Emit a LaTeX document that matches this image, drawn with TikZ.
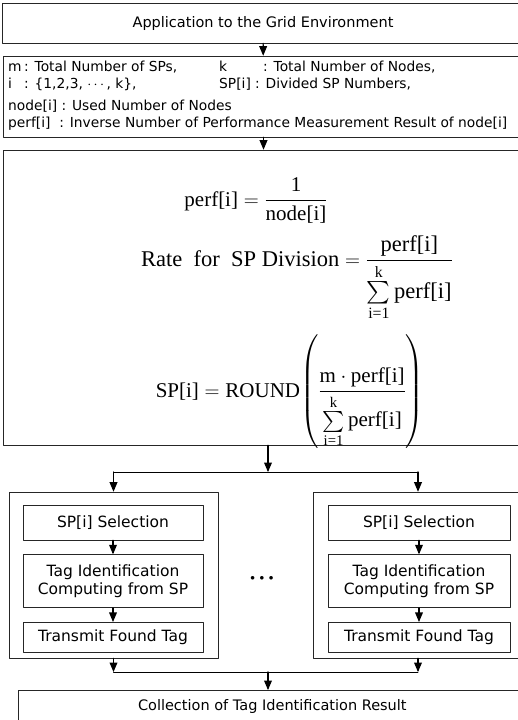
\documentclass[tikz,border=0pt]{standalone}
\usepackage{amsmath}
\usepackage{amssymb}
\usepackage{fontspec}
\setsansfont{DejaVu Sans}
\newfontfamily\eqfont{Liberation Serif}
\usepackage{pgf,tikz}
\usetikzlibrary{arrows,positioning}
\definecolor{boxline}{rgb}{0.15,0.15,0.15}

\begin{document}
\begin{tikzpicture}[line cap=round,line join=round,>=triangle 45,x=1pt,y=-1pt,
	box/.style={draw=boxline,line width=0.6pt,rectangle,inner sep=0pt,align=center,font=\sffamily\fontsize{14.5}{17}\selectfont},
	stepbox/.style={box,font=\sffamily\fontsize{15.5}{18}\selectfont},
	deftxt/.style={anchor=base west,inner sep=0pt,font=\sffamily\fontsize{13.8}{15}\selectfont},
	eqn/.style={anchor=base,inner sep=0pt,font=\eqfont\fontsize{21}{24}\selectfont},
	flow/.style={->,line width=1.2pt},
	link/.style={line width=0.6pt}]
		\useasboundingbox (0.,0.) rectangle (518.,720.);
		\node[box,minimum width=522pt,minimum height=40pt] (grid) at (263.,23.) {Application to the Grid Environment};
		\node[box,minimum width=521pt,minimum height=81pt] (defs) at (263.5,96.5) {};
		\node[deftxt] (dm) at (8.,71.) {\makebox[16pt][l]{m}: Total Number of SPs,};
		\node[deftxt] (dk) at (219.,71.) {\makebox[44pt][l]{k}: Total Number of Nodes,};
		\node[deftxt] (di) at (8.,88.) {\makebox[16pt][l]{i}: \{1,2,3, $\cdots$, k\},};
		\node[deftxt] (dsp) at (219.,88.) {\makebox[36pt][l]{SP[i]}: Divided SP Numbers,};
		\node[deftxt] (dnode) at (8.,110.) {node[i] : Used Number of Nodes};
		\node[deftxt] (dperf) at (8.,127.) {perf[i]\ \ : Inverse Number of Performance Measurement Result of node[i]};
		\node[box,minimum width=521pt,minimum height=295pt] (calc) at (263.5,297.5) {};
		\node[eqn] (eqperf) at (256.,206.) {$\text{perf[i]} = \dfrac{\text{1}}{\text{node[i]}}$};
		\node[eqn,font=\eqfont\fontsize{22.5}{26}\selectfont] (eqrate) at (297.,266.) {$\text{Rate\ \ for\ \ SP Division} = \dfrac{\text{perf[i]}}{\sum\limits_{\text{i=1}}^{\text{k}}\text{perf[i]}}$};
		\node[eqn] (eqsp) at (290.,397.) {$\text{SP[i]} = \text{ROUND}\!\left(\dfrac{\text{m}\cdot\text{perf[i]}}{\sum\limits_{\text{i=1}}^{\text{k}}\text{perf[i]}}\right)$};
		\node[box,minimum width=209pt,minimum height=166pt] (lgrp) at (113.5,575.) {};
		\node[box,minimum width=209pt,minimum height=166pt] (rgrp) at (418.,575.) {};
		\node[stepbox,minimum width=180pt,minimum height=35pt] (lsel) at (113.,522.5) {SP[i] Selection};
		\node[stepbox,minimum width=180pt,minimum height=53pt,below=14pt of lsel] (lcomp) {Tag Identification\\Computing from SP};
		\node[stepbox,minimum width=180pt,minimum height=30pt,below=14pt of lcomp] (lsend) {Transmit Found Tag};
		\node[stepbox,minimum width=182pt,minimum height=35pt] (rsel) at (419.,522.5) {SP[i] Selection};
		\node[stepbox,minimum width=182pt,minimum height=53pt,below=14pt of rsel] (rcomp) {Tag Identification\\Computing from SP};
		\node[stepbox,minimum width=182pt,minimum height=30pt,below=14pt of rcomp] (rsend) {Transmit Found Tag};
		\node[inner sep=0pt,font=\fontsize{9}{9}\selectfont] (dots) at (262.,578.) {$\bullet\;\bullet\;\bullet$};
		\node[box,minimum width=508pt,minimum height=32pt,anchor=north west] (coll) at (18.,690.) {Collection of Tag Identification Result};
		\coordinate (split) at (268.,472.);
		\coordinate (merge) at (268.,672.);
		\draw [flow] (grid) -- (defs);
		\draw [flow] (defs) -- (calc);
		\draw [flow] (calc.south -| split) -- (split);
		\draw [link] (split -| lgrp) -- (split -| rgrp);
		\draw [flow] (split -| lgrp) -- (lgrp);
		\draw [flow] (split -| rgrp) -- (rgrp);
		\draw [flow] (lsel) -- (lcomp);
		\draw [flow] (lcomp) -- (lsend);
		\draw [flow] (rsel) -- (rcomp);
		\draw [flow] (rcomp) -- (rsend);
		\draw [flow] (lgrp) -- (lgrp |- merge);
		\draw [flow] (rgrp) -- (rgrp |- merge);
		\draw [link] (lgrp |- merge) -- (rgrp |- merge);
		\draw [flow] (merge) -- (coll.north -| merge);
\end{tikzpicture}
\end{document}
